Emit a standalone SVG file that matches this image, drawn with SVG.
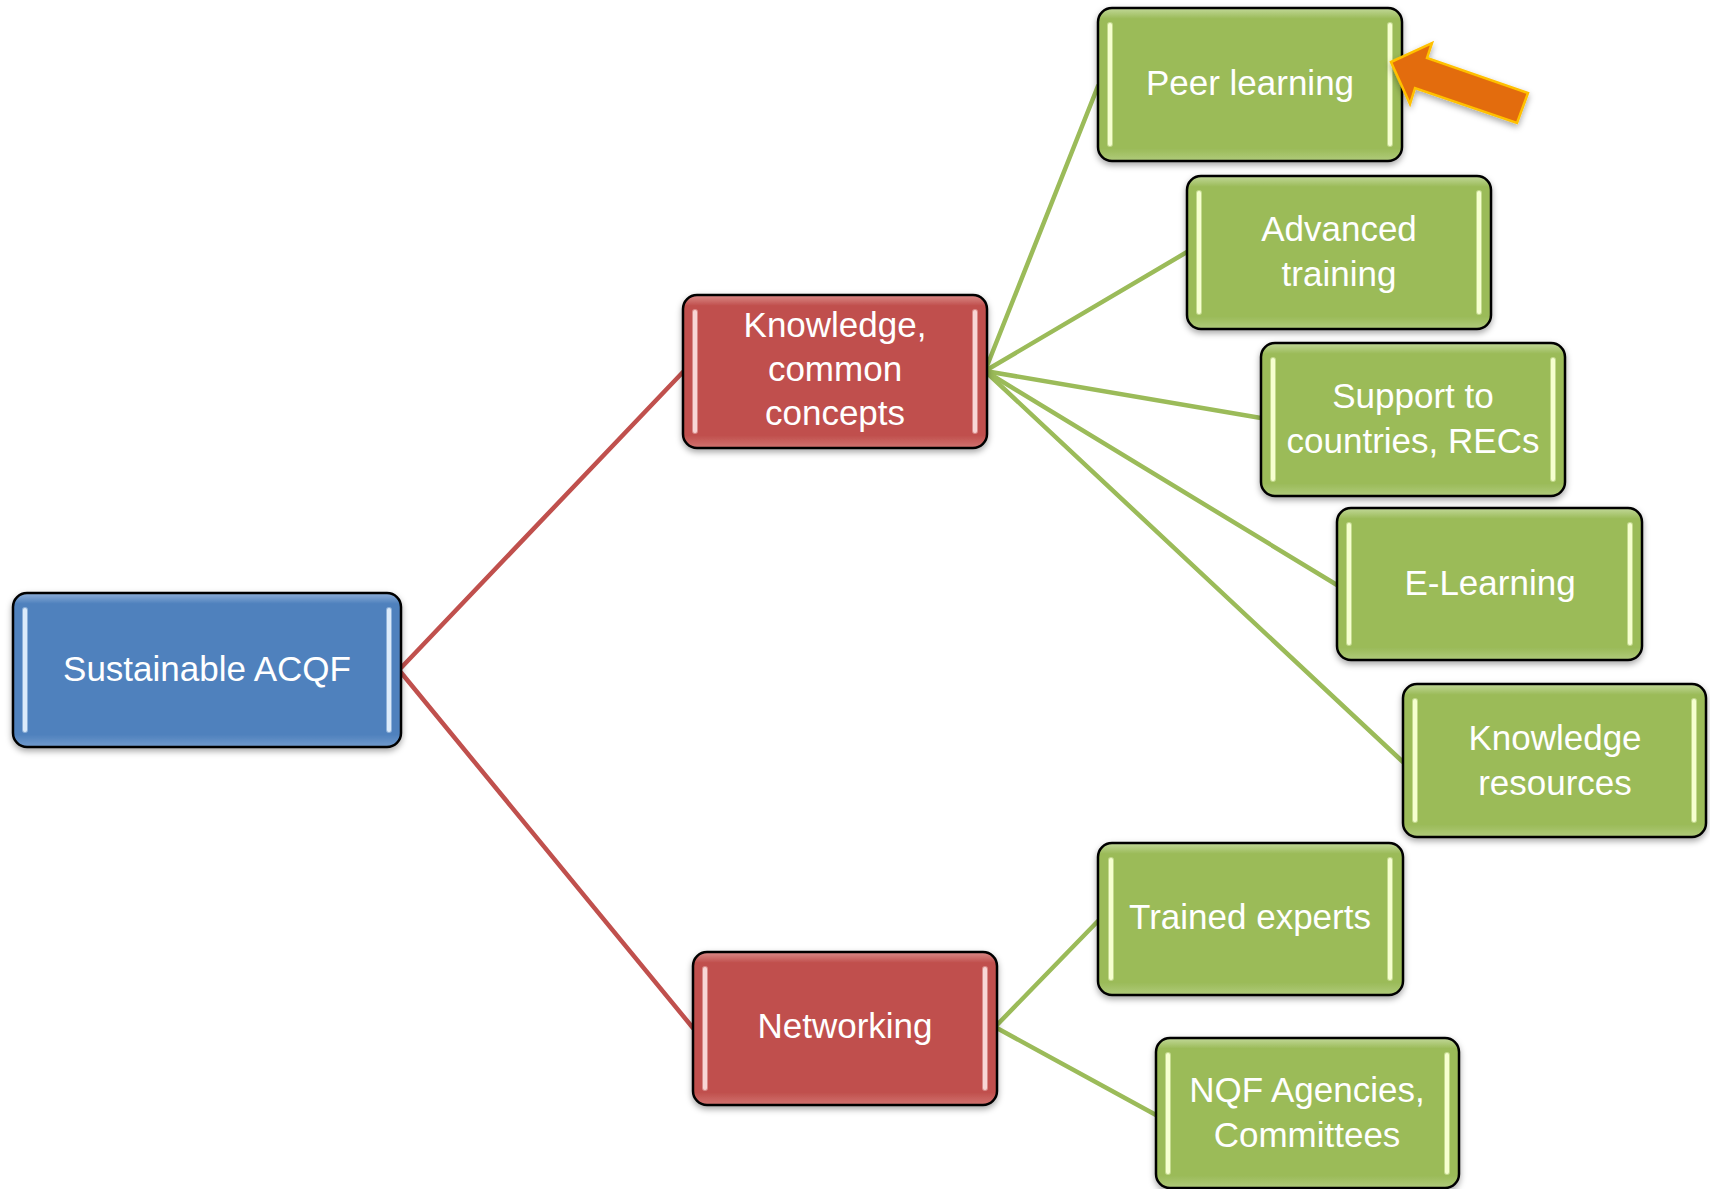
<svg xmlns="http://www.w3.org/2000/svg" width="1710" height="1189" viewBox="0 0 1710 1189">
<defs>
<filter id="shadow" x="-10%" y="-10%" width="120%" height="130%">
<feDropShadow dx="0" dy="3" stdDeviation="3" flood-color="#000" flood-opacity="0.35"/>
</filter>
<linearGradient id="gBlue" x1="0" y1="0" x2="0" y2="1">
<stop offset="0" stop-color="#8fb0da"/>
<stop offset="0.07" stop-color="#4f81bd"/>
<stop offset="0.92" stop-color="#4f81bd"/>
<stop offset="1" stop-color="#729bcd"/>
</linearGradient>
<linearGradient id="gRed" x1="0" y1="0" x2="0" y2="1">
<stop offset="0" stop-color="#dc8c8a"/>
<stop offset="0.07" stop-color="#c0504d"/>
<stop offset="0.92" stop-color="#c0504d"/>
<stop offset="1" stop-color="#d27370"/>
</linearGradient>
<linearGradient id="gGreen" x1="0" y1="0" x2="0" y2="1">
<stop offset="0" stop-color="#c3d99a"/>
<stop offset="0.07" stop-color="#9bbb59"/>
<stop offset="0.92" stop-color="#9bbb59"/>
<stop offset="1" stop-color="#b0cb7b"/>
</linearGradient>
</defs>
<style>
.box{stroke:#000;stroke-width:2.5;filter:url(#shadow)}
.blue .box{fill:url(#gBlue)}
.red .box{fill:url(#gRed)}
.green .box{fill:url(#gGreen)}
.hl{stroke-width:2;stroke-opacity:0.45}
.blue .hl{fill:#dcebfa;stroke:#dcebfa}
.red .hl{fill:#f8d6d5;stroke:#f8d6d5}
.green .hl{fill:#f6ffd0;stroke:#f6ffd0}
text{font-family:"Liberation Sans",Arial,sans-serif;font-size:35px;fill:#fff;text-anchor:middle}
.conn line{stroke-width:4.5;stroke-linecap:round}
.cr{stroke:#c0504d}
.cg{stroke:#9bbb59}
</style>
<rect width="1710" height="1189" fill="#fff"/>
<g id="connectors" class="conn">
<line class="cr" x1="399" y1="670" x2="683" y2="372"/>
<line class="cr" x1="399" y1="670" x2="693" y2="1028"/>
<line class="cg" x1="985" y1="371" x2="1098" y2="86"/>
<line class="cg" x1="985" y1="371" x2="1187" y2="252"/>
<line class="cg" x1="985" y1="371" x2="1261" y2="418"/>
<line class="cg" x1="985" y1="371" x2="1337" y2="585"/>
<line class="cg" x1="985" y1="371" x2="1403" y2="762"/>
<line class="cg" x1="995" y1="1027" x2="1098" y2="921"/>
<line class="cg" x1="995" y1="1027" x2="1156" y2="1115"/>
</g>
<g id="sustainable-acqf" class="node blue">
<rect class="box" x="13" y="593" width="388" height="154" rx="14"/>
<rect class="hl" x="23" y="608" width="4" height="124" rx="2"/>
<rect class="hl" x="387" y="608" width="4" height="124" rx="2"/>
<text x="207" y="681">Sustainable ACQF</text>
</g>
<g id="knowledge-common-concepts" class="node red">
<rect class="box" x="683" y="295" width="304" height="153" rx="14"/>
<rect class="hl" x="693" y="310" width="4" height="123" rx="2"/>
<rect class="hl" x="973" y="310" width="4" height="123" rx="2"/>
<text x="835" y="337">Knowledge,</text>
<text x="835" y="381">common</text>
<text x="835" y="425">concepts</text>
</g>
<g id="networking" class="node red">
<rect class="box" x="693" y="952" width="304" height="153" rx="14"/>
<rect class="hl" x="703" y="967" width="4" height="123" rx="2"/>
<rect class="hl" x="983" y="967" width="4" height="123" rx="2"/>
<text x="845" y="1038">Networking</text>
</g>
<g id="peer-learning" class="node green">
<rect class="box" x="1098" y="8" width="304" height="153" rx="14"/>
<rect class="hl" x="1108" y="23" width="4" height="123" rx="2"/>
<rect class="hl" x="1388" y="23" width="4" height="123" rx="2"/>
<text x="1250" y="95">Peer learning</text>
</g>
<g id="advanced-training" class="node green">
<rect class="box" x="1187" y="176" width="304" height="153" rx="14"/>
<rect class="hl" x="1197" y="191" width="4" height="123" rx="2"/>
<rect class="hl" x="1477" y="191" width="4" height="123" rx="2"/>
<text x="1339" y="241">Advanced</text>
<text x="1339" y="286">training</text>
</g>
<g id="support-to-countries" class="node green">
<rect class="box" x="1261" y="343" width="304" height="153" rx="14"/>
<rect class="hl" x="1271" y="358" width="4" height="123" rx="2"/>
<rect class="hl" x="1551" y="358" width="4" height="123" rx="2"/>
<text x="1413" y="408">Support to</text>
<text x="1413" y="453">countries, RECs</text>
</g>
<g id="e-learning" class="node green">
<rect class="box" x="1337" y="508" width="305" height="152" rx="14"/>
<rect class="hl" x="1347" y="523" width="4" height="122" rx="2"/>
<rect class="hl" x="1628" y="523" width="4" height="122" rx="2"/>
<text x="1490" y="595">E-Learning</text>
</g>
<g id="knowledge-resources" class="node green">
<rect class="box" x="1403" y="684" width="303" height="153" rx="14"/>
<rect class="hl" x="1413" y="699" width="4" height="123" rx="2"/>
<rect class="hl" x="1692" y="699" width="4" height="123" rx="2"/>
<text x="1555" y="750">Knowledge</text>
<text x="1555" y="795">resources</text>
</g>
<g id="trained-experts" class="node green">
<rect class="box" x="1098" y="843" width="305" height="152" rx="14"/>
<rect class="hl" x="1109" y="858" width="4" height="122" rx="2"/>
<rect class="hl" x="1388" y="858" width="4" height="122" rx="2"/>
<text x="1250" y="929">Trained experts</text>
</g>
<g id="nqf-agencies" class="node green">
<rect class="box" x="1156" y="1038" width="303" height="150" rx="14"/>
<rect class="hl" x="1166" y="1053" width="4" height="121" rx="2"/>
<rect class="hl" x="1445" y="1053" width="4" height="121" rx="2"/>
<text x="1307" y="1102">NQF Agencies,</text>
<text x="1307" y="1147">Committees</text>
</g>
<g id="pointer-arrow">
<polygon points="1391,62 1432,43 1427,58 1528,93 1517,123 1415,88 1410,104" fill="#e36c09" stroke="#ffc000" stroke-width="2.5" stroke-linejoin="miter" filter="url(#shadow)"/>
</g>
</svg>
